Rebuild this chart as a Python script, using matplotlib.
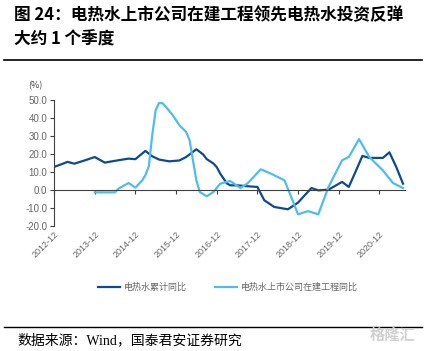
import pandas as pd
import matplotlib
matplotlib.use("Agg")
import matplotlib.pyplot as plt
import matplotlib.transforms as mtransforms

plt.rcParams['font.family'] = ['Noto Sans CJK SC', 'DejaVu Sans']

# ---- data ----
dark_dates = ['2012-12', '2013-02', '2013-04', '2013-06', '2013-09', '2013-12', '2014-03',
              '2014-07', '2014-10', '2014-12', '2015-01', '2015-03', '2015-05', '2015-07',
              '2015-10', '2016-01', '2016-03', '2016-06', '2016-08', '2016-09', '2016-11',
              '2016-12', '2017-01', '2017-03', '2017-04', '2017-06', '2017-09', '2017-12',
              '2018-02', '2018-05', '2018-09', '2018-12', '2019-02', '2019-04', '2019-06',
              '2019-09', '2020-01', '2020-03', '2020-05', '2020-07', '2020-09', '2021-01',
              '2021-03', '2021-05', '2021-07']
dark_vals = [12.6, 14.0, 15.4, 14.4, 16.2, 18.1, 15.0,
             16.3, 17.2, 16.9, 18.5, 21.5, 18.5, 16.7,
             15.7, 16.2, 18.1, 22.4, 19.5, 17.0, 14.5,
             12.5, 8.9, 3.5, 2.4, 2.4, 1.9, 1.5,
             -5.9, -9.6, -10.9, -7.2, -3.0, 0.9, -0.4,
             0.0, 4.3, 1.5, 10.0, 18.7, 17.6, 17.6,
             20.7, 12.6, 3.3]

light_dates = ['2013-12', '2014-06', '2014-07', '2014-10', '2014-12', '2015-02', '2015-03',
               '2015-04', '2015-05', '2015-06', '2015-07', '2015-08', '2015-09', '2015-11',
               '2016-01', '2016-03', '2016-04', '2016-05', '2016-06', '2016-07', '2016-09',
               '2016-11', '2017-01', '2017-04', '2017-07', '2017-09', '2018-01', '2018-04',
               '2018-08', '2018-10', '2018-12', '2019-03', '2019-06', '2019-09', '2020-01',
               '2020-03', '2020-06', '2020-09', '2021-01', '2021-04', '2021-07']
light_vals = [-1.5, -1.5, 0.5, 3.7, 1.1, 5.2, 8.0,
              13.0, 30.0, 44.0, 48.0, 48.0, 46.0, 41.3,
              35.7, 32.0, 27.4, 16.3, 5.2, -1.3, -3.7,
              -1.3, 3.3, 4.8, 0.9, 3.3, 11.3, 8.9,
              5.2, -4.1, -13.7, -11.9, -13.7, 1.5, 16.3,
              18.1, 28.0, 18.1, 10.7, 3.7, 0.9]

year_ticks = ['2012-12', '2013-12', '2014-12', '2015-12', '2016-12',
              '2017-12', '2018-12', '2019-12', '2020-12']
y_ticks = [-20, -10, 0, 10, 20, 30, 40, 50]

series_names = ['电热水累计同比', '电热水上市公司在建工程同比']
dark_color = '#0D4A8E'
light_color = '#4DBDF0'

# ---- figure ----
fig = plt.figure(figsize=(4.26, 3.51), dpi=100)
ax = fig.add_axes([0.127, 0.357, 0.824, 0.3595])

ax.plot(pd.to_datetime(dark_dates), dark_vals, color=dark_color, lw=1.6, label=series_names[0])
ax.plot(pd.to_datetime(light_dates), light_vals, color=light_color, lw=1.6, label=series_names[1])

ax.set_ylim(-20, 50)
ax.set_xlim(pd.Timestamp('2012-12-01'), pd.Timestamp('2021-07-20'))
ax.set_yticks(y_ticks)
ax.set_yticklabels([f"{v:.1f}" for v in y_ticks], fontsize=7, color='#666666',
                   family=['Liberation Sans', 'DejaVu Sans'])

for s in ['top', 'right']:
    ax.spines[s].set_visible(False)
ax.spines['left'].set_color('#404040')
ax.spines['left'].set_linewidth(0.8)
ax.spines['bottom'].set_position(('data', 0))
ax.spines['bottom'].set_color('#404040')
ax.spines['bottom'].set_linewidth(0.8)
ax.tick_params(axis='y', length=3, width=0.8, color='#404040', pad=2)
ax.tick_params(axis='x', length=3, width=0.8, color='#404040', direction='out')

tick_pos = pd.to_datetime(year_ticks)
ax.set_xticks(tick_pos)
ax.set_xticklabels([])
trans = mtransforms.blended_transform_factory(ax.transData, ax.transAxes)
for t, lab in zip(tick_pos, year_ticks):
    ax.text(t, -0.03, lab, transform=trans, rotation=45, ha='right', va='top',
            rotation_mode='anchor', fontsize=6.5, color='#666666',
            family=['Liberation Sans', 'DejaVu Sans'])

fig.text(0.082, 0.757, '(%)', fontsize=6.5, color='#404040', ha='center', va='center')

ax.legend(loc='center', bbox_to_anchor=(0.535, 0.182), bbox_transform=fig.transFigure,
          ncol=2, frameon=False, fontsize=6.5, labelcolor='#666666',
          handlelength=2.4, handletextpad=0.4, columnspacing=3.2)

# title and source
fig.text(0.033, 0.957, '图 24：电热水上市公司在建工程领先电热水投资反弹', fontsize=12,
         fontweight='bold', ha='left', va='center')
fig.text(0.033, 0.886, '大约 1 个季度', fontsize=12, fontweight='bold', ha='left', va='center')
fig.add_artist(plt.Line2D([0.01, 0.99], [0.829, 0.829], color='black', lw=1.2))
fig.add_artist(plt.Line2D([0.01, 0.99], [0.068, 0.068], color='black', lw=1.0))
fig.text(0.042, 0.031, '数据来源：Wind，国泰君安证券研究', fontsize=10, ha='left', va='center',
         family=['Liberation Serif', 'Noto Sans CJK SC'])
fig.text(0.975, 0.045, '格隆汇', fontsize=11, color='#D0D0D0', ha='right', va='center',
         fontweight='bold')

fig.savefig('out.png', dpi=100)
